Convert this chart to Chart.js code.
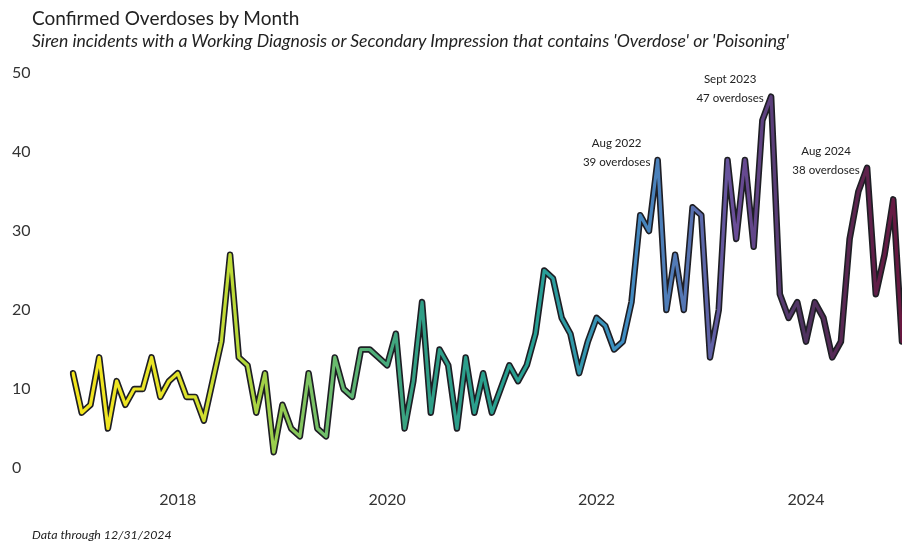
<!DOCTYPE html>
<html>
<head>
<meta charset="utf-8">
<script src="https://cdn.jsdelivr.net/npm/chart.js@4.4.1/dist/chart.umd.min.js"></script>
<style>
  html, body { margin: 0; padding: 0; background: #fff; }
  #wrap { position: relative; width: 902px; height: 544px; overflow: hidden; font-family: "Lato", "Open Sans", sans-serif; color: #222; }
  #wrap canvas { position: absolute; left: 0; top: 0; }
  .title { position: absolute; left: 32px; top: 6px; font-size: 19px; white-space: nowrap; }
  .subtitle { position: absolute; left: 32px; top: 30px; font-size: 17.6px; font-style: italic; white-space: nowrap; }
  .footer { position: absolute; left: 32px; top: 527px; font-size: 12.4px; font-style: italic; white-space: nowrap; }
</style>
</head>
<body>
<div id="wrap">
  <canvas id="line-chart"></canvas>
  <div class="title">Confirmed Overdoses by Month</div>
  <div class="subtitle">Siren incidents with a Working Diagnosis or Secondary Impression that contains 'Overdose' or 'Poisoning'</div>
  <div class="footer">Data through 12/31/2024</div>
</div>
<script>
(function () {
	"use strict";
	// Monthly confirmed overdoses, Jan 2017 - Dec 2024
	var years = ["2017", "2018", "2019", "2020", "2021", "2022", "2023", "2024"];
	var monthNames = ["Jan", "Feb", "Mar", "Apr", "May", "Jun", "Jul", "Aug", "Sep", "Oct", "Nov", "Dec"];
	var overdoses = [
		12, 7, 8, 14, 5, 11, 8, 10, 10, 14, 9, 11,
		12, 9, 9, 6, 11, 16, 27, 14, 13, 7, 12, 2,
		8, 5, 4, 12, 5, 4, 14, 10, 9, 15, 15, 14,
		13, 17, 5, 11, 21, 7, 15, 13, 5, 14, 7, 12,
		7, 10, 13, 11, 13, 17, 25, 24, 19, 17, 12, 16,
		19, 18, 15, 16, 21, 32, 30, 39, 20, 27, 20, 33,
		32, 14, 20, 39, 29, 39, 28, 44, 47, 22, 19, 21,
		16, 21, 19, 14, 16, 29, 35, 38, 22, 27, 34, 16,
	];
	var xTickYears = ["2018", "2020", "2022", "2024"];
	var yTicks = [0, 10, 20, 30, 40, 50];

	// callouts
	var noteMonths = ["Aug 2022", "Sep 2023", "Aug 2024"];
	var noteTitles = ["Aug 2022", "Sept 2023", "Aug 2024"];

	var labels = [];
	years.forEach(function (y) {
		monthNames.forEach(function (m) {
			labels.push(m + " " + y);
		});
	});

	var gradColors = [
		[0.0, "#f4e61e"],
		[0.12, "#e6e42a"],
		[0.2, "#b8d938"],
		[0.3, "#72bf6a"],
		[0.42, "#2f9e86"],
		[0.56, "#26a094"],
		[0.66, "#3e8fc4"],
		[0.74, "#5676b4"],
		[0.8, "#6a4c98"],
		[0.88, "#4e3360"],
		[1.0, "#681840"],
	];

	function lineGradient(context) {
		var chart = context.chart;
		var area = chart.chartArea;
		if (!area) return gradColors[0][1];
		var g = chart.ctx.createLinearGradient(area.left, 0, area.right, 0);
		gradColors.forEach(function (s) {
			g.addColorStop(s[0], s[1]);
		});
		return g;
	}

	var notesPlugin = {
		id: "notes",
		afterDatasetsDraw: function (chart) {
			var ctx = chart.ctx;
			var xs = chart.scales.x;
			var ys = chart.scales.y;
			ctx.save();
			ctx.font = "11.5px Lato, 'Open Sans', sans-serif";
			ctx.fillStyle = "#222";
			ctx.textAlign = "center";
			ctx.textBaseline = "middle";
			noteMonths.forEach(function (m, i) {
				var idx = labels.indexOf(m);
				var px = xs.getPixelForValue(idx) - 41;
				var py = ys.getPixelForValue(overdoses[idx]);
				ctx.fillText(noteTitles[i], px, py - 17);
				ctx.fillText(overdoses[idx] + " overdoses", px, py + 2);
			});
			ctx.restore();
		},
	};

	var ctx = document.getElementById("line-chart").getContext("2d");
	document.getElementById("line-chart").width = 902;
	document.getElementById("line-chart").height = 544;
	var myChart = new Chart(ctx, {
		type: "line",
		data: {
			labels: labels,
			datasets: [
				{
					label: "Overdoses",
					data: overdoses,
					borderColor: lineGradient,
					borderWidth: 3.2,
					borderJoinStyle: "round",
					borderCapStyle: "round",
					pointRadius: 0,
					tension: 0,
					order: 0,
				},
				{
					label: "outline",
					data: overdoses,
					borderColor: "#1e1e24",
					borderWidth: 6.5,
					borderJoinStyle: "round",
					borderCapStyle: "round",
					pointRadius: 0,
					tension: 0,
					order: 1,
				},
			],
		},
		options: {
			responsive: false,
			animation: false,
			layout: { padding: { left: 12, right: 0, top: 73, bottom: 0 } },
			plugins: {
				legend: { display: false },
				tooltip: { enabled: false },
			},
			scales: {
				x: {
					grid: { display: false, drawTicks: false },
					border: { display: false },
					afterFit: function (s) {
						s.height = 76;
					},
					ticks: {
						autoSkip: false,
						maxRotation: 0,
						minRotation: 0,
						padding: 0,
						color: "#333",
						font: { family: "Lato, 'Open Sans', sans-serif", size: 16, lineHeight: 4 },
						callback: function (v, i) {
							var l = labels[i];
							var y = l.slice(4);
							return l.indexOf("Jan") === 0 && xTickYears.indexOf(y) >= 0 ? y : "";
						},
					},
				},
				y: {
					min: yTicks[0],
					max: yTicks[yTicks.length - 1],
					grid: { display: false, drawTicks: false },
					border: { display: false },
					afterFit: function (s) {
						s.width = 61;
					},
					afterBuildTicks: function (s) {
						s.ticks = yTicks.map(function (v) {
							return { value: v };
						});
					},
					ticks: {
						crossAlign: "far",
						color: "#333",
						font: { family: "Lato, 'Open Sans', sans-serif", size: 16 },
					},
				},
			},
		},
		plugins: [notesPlugin],
	});
})();
</script>
</body>
</html>
